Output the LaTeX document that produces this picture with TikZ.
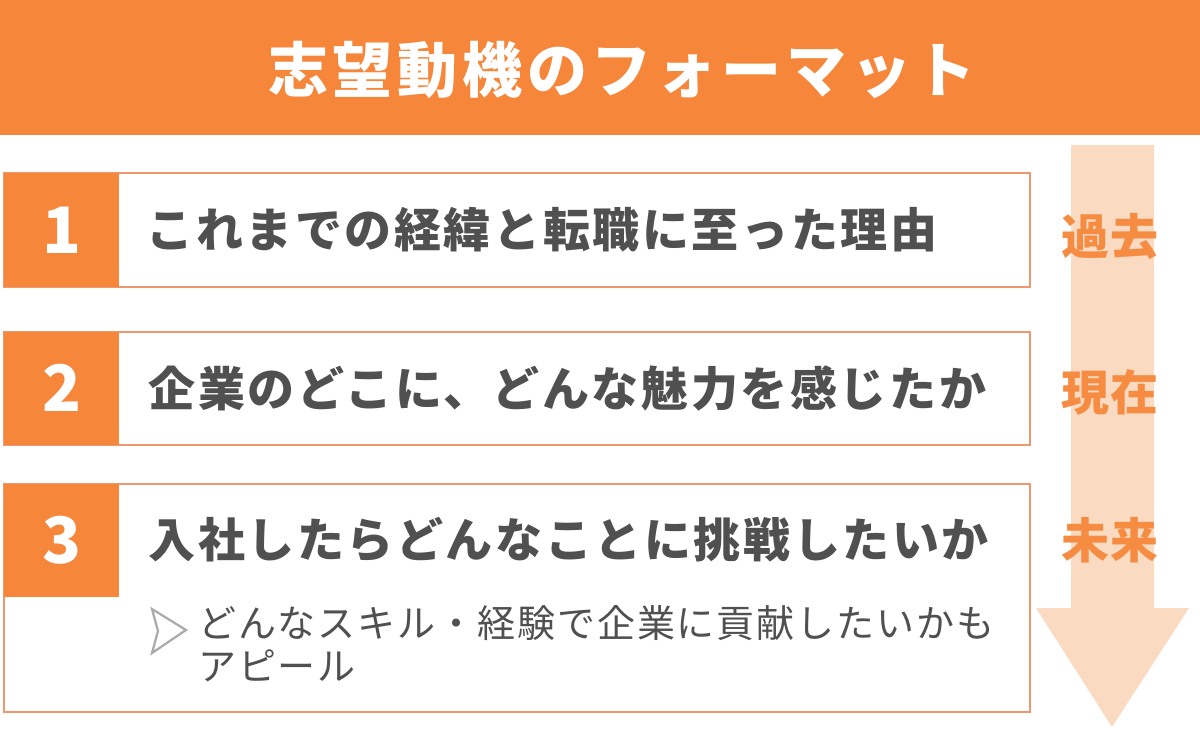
\documentclass[tikz,border=0pt]{standalone}
\usepackage{fontspec}
\setmainfont{Noto Sans CJK JP}
\definecolor{mainorange}{RGB}{245,134,58}
\definecolor{lineorange}{RGB}{239,152,112}
\definecolor{paleorange}{RGB}{251,218,194}
\definecolor{labelorange}{RGB}{245,140,66}
\definecolor{textgray}{RGB}{80,80,80}
\definecolor{bulletgray}{RGB}{170,170,170}
\tikzset{
  itembox/.style={draw=lineorange, line width=1.6pt, fill=white},
  numbox/.style={fill=mainorange},
  numtext/.style={text=white, font=\fontsize{64}{64}\selectfont\bfseries},
  itemtext/.style={anchor=west, text=textgray, font=\fontsize{47}{47}\selectfont\bfseries\addfontfeature{LetterSpace=5.5}},
  timetext/.style={text=labelorange, font=\fontsize{48}{48}\selectfont\bfseries\addfontfeature{LetterSpace=3}}
}
\begin{document}
\begin{tikzpicture}[x=1pt,y=-1pt]
        \useasboundingbox (0,0) rectangle (1200,740);
        % header
        \fill[mainorange] (0,0) rectangle (1200,135);
        \node[text=white, font=\fontsize{60}{60}\selectfont\bfseries\addfontfeature{LetterSpace=8}] (title) at (622,70) {志望動機のフォーマット};
        % time arrow
        \fill[paleorange] (1071,145) -- (1154,145) -- (1154,608) -- (1189,608)
              -- (1112,727) -- (1036,608) -- (1071,608) -- cycle;
        % items
        \draw[itembox] (4,173) rectangle (1030,287);
        \fill[numbox] (4,173) rectangle (119,287);
        \draw[itembox] (4,332) rectangle (1030,445);
        \fill[numbox] (4,332) rectangle (119,445);
        \draw[itembox] (4,484) rectangle (1030,712);
        \fill[numbox] (4,484) rectangle (119,597);
        \node[numtext] (n1) at (62,230) {1};
        \node[numtext] (n2) at (62,388) {2};
        \node[numtext] (n3) at (62,540) {3};
        \node[itemtext] (t1) at (143,230) {これまでの経緯と転職に至った理由};
        \node[itemtext] (t2) at (145,388) {企業のどこに、どんな魅力を感じたか};
        \node[itemtext] (t3) at (145,540) {入社したらどんなことに挑戦したいか};
        % sub point
        \draw[bulletgray, line width=2.2pt, line join=miter]
              (152,609) -- (186,630) -- (152,653) -- (158,631) -- cycle;
        \node[anchor=north west, align=left, text=textgray, inner sep=0pt,
              font=\fontsize{38}{43}\selectfont\addfontfeature{LetterSpace=5}] (t3sub) at (198,605)
              {どんなスキル・経験で企業に貢献したいかも\\アピール};
        % time labels
        \node[timetext] (past) at (1110,236) {過去};
        \node[timetext] (now) at (1110,392) {現在};
        \node[timetext] (future) at (1110,540) {未来};
\end{tikzpicture}
\end{document}
